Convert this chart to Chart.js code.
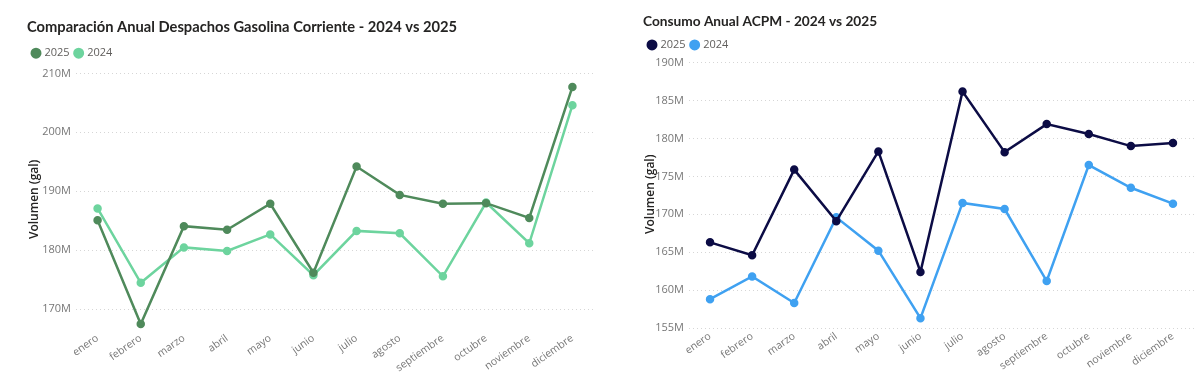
<!DOCTYPE html>
<html>
<head>
<meta charset="utf-8">
<script src="https://cdn.jsdelivr.net/npm/chart.js@4.4.1/dist/chart.umd.min.js"></script>
<style>
  body { margin: 0; background: #fff; }
  #leftBox { position: absolute; left: 0; top: 0; width: 610px; height: 379px; }
  #rightBox { position: absolute; left: 615px; top: 0; width: 585px; height: 379px; }
</style>
</head>
<body>
<div id="leftBox"><canvas id="gasolinaChart"></canvas></div>
<div id="rightBox"><canvas id="acpmChart"></canvas></div>
<script>
// data (millones de galones)
const months = ['enero', 'febrero', 'marzo', 'abril', 'mayo', 'junio', 'julio',
    'agosto', 'septiembre', 'octubre', 'noviembre', 'diciembre'];

const gasolina2025 = [185.1, 167.5, 184.1, 183.5, 187.9, 176.2, 194.2, 189.4, 187.9, 188.0, 185.5, 207.7];
const gasolina2024 = [187.1, 174.5, 180.5, 179.9, 182.7, 175.8, 183.3, 182.9, 175.6, 188.1, 181.2, 204.6];

const acpm2025 = [166.3, 164.6, 175.9, 169.1, 178.3, 162.4, 186.2, 178.2, 181.9, 180.6, 179.0, 179.4];
const acpm2024 = [158.8, 161.8, 158.3, 169.6, 165.2, 156.3, 171.5, 170.7, 161.2, 176.5, 173.5, 171.4];

const gasolinaTicks = [170, 180, 190, 200, 210];
const acpmTicks = [155, 160, 165, 170, 175, 180, 185, 190];

Chart.defaults.font.family = "'Open Sans', 'Noto Sans', sans-serif";
Chart.defaults.color = '#666';

function lineSet(label, values, color) {
    return {
        label: label,
        data: values,
        borderColor: color,
        backgroundColor: color,
        borderWidth: 2.5,
        pointRadius: 3,
        pointHoverRadius: 3.5,
        tension: 0,
    };
}

// box = sizes of the frame around the plot, tuned per chart
function makeConfig(title, sets, yMin, yMax, tickList, box) {
    return {
        type: 'line',
        data: { labels: months, datasets: sets },
        options: {
            responsive: true,
            maintainAspectRatio: false,
            animation: false,
            layout: { padding: { left: box.left, right: box.right, top: 0, bottom: 0 } },
            plugins: {
                title: {
                    display: true,
                    text: title,
                    align: 'start',
                    color: '#252423',
                    font: { family: 'Lato', size: box.titleSize, weight: 'bold' },
                    padding: { top: box.titleTop, bottom: box.titleBottom },
                },
                legend: {
                    align: 'start',
                    labels: {
                        usePointStyle: true,
                        pointStyle: 'circle',
                        boxWidth: 6,
                        boxHeight: 6,
                        padding: 6,
                        color: '#605e5c',
                        font: { size: 11 },
                    },
                },
                tooltip: { enabled: false },
            },
            scales: {
                x: {
                    offset: true,
                    grid: { display: false, drawTicks: false },
                    border: { display: false },
                    afterFit: (axis) => { axis.height = box.xHeight; },
                    ticks: {
                        minRotation: 35,
                        maxRotation: 35,
                        padding: 2,
                        font: { size: 10.5 },
                        color: '#777',
                    },
                },
                y: {
                    min: yMin,
                    max: yMax,
                    // dotted gridlines
                    border: { display: false, dash: [1, 3] },
                    grid: { color: '#d6d6d6', lineWidth: 1, drawTicks: false },
                    afterFit: (axis) => { axis.width = box.yWidth; },
                    afterBuildTicks: (axis) => {
                        axis.ticks = tickList.map((v) => ({ value: v }));
                    },
                    ticks: {
                        callback: (v) => v + 'M',
                        font: { size: 11 },
                        color: '#777',
                        padding: 5,
                    },
                    title: {
                        display: true,
                        text: 'Volumen (gal)',
                        color: '#252423',
                        font: { size: 12, weight: '600' },
                        padding: 0,
                    },
                },
            },
        },
    };
}

new Chart(document.getElementById('gasolinaChart'), makeConfig(
    'Comparación Anual Despachos Gasolina Corriente - 2024 vs 2025',
    [lineSet('2025', gasolina2025, '#4f8a5b'), lineSet('2024', gasolina2024, '#6dd49e')],
    166.5, 210.8, gasolinaTicks,
    { left: 27, right: 16, titleSize: 14.7, titleTop: 18, titleBottom: 6, yWidth: 49, xHeight: 49 }
));

new Chart(document.getElementById('acpmChart'), makeConfig(
    'Consumo Anual ACPM - 2024 vs 2025',
    [lineSet('2025', acpm2025, '#0c0c45'), lineSet('2024', acpm2024, '#3fa1f1')],
    155, 190.3, acpmTicks,
    { left: 28, right: 4, titleSize: 13.7, titleTop: 13, titleBottom: 4, yWidth: 46, xHeight: 51 }
));
</script>
</body>
</html>
